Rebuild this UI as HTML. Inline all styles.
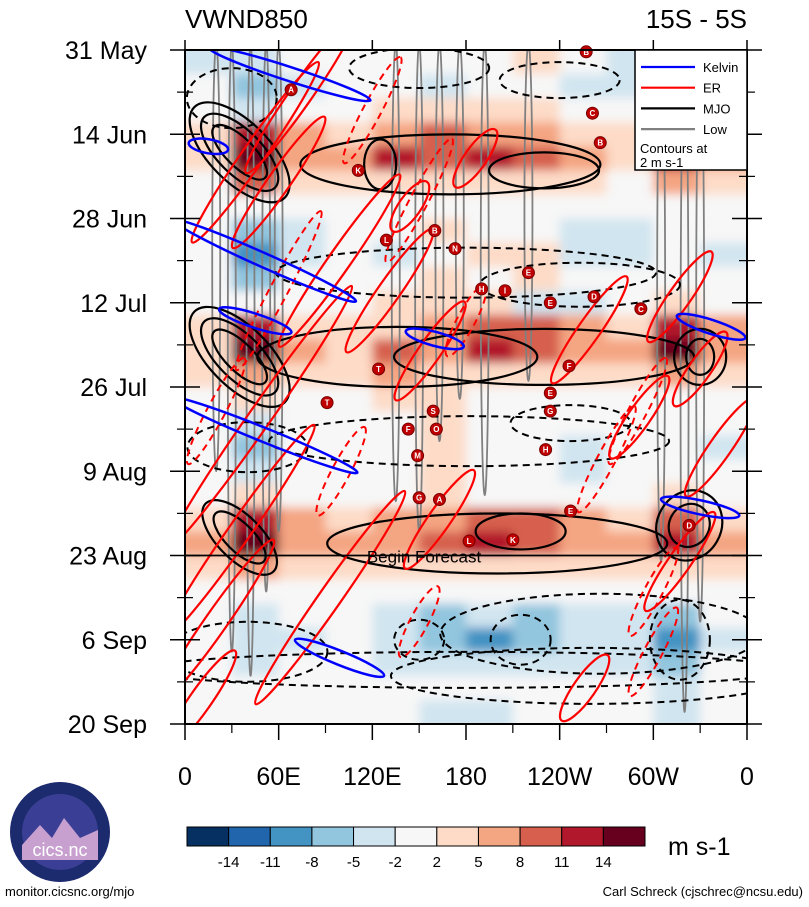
<!DOCTYPE html>
<html><head><meta charset="utf-8">
<style>
html,body{margin:0;padding:0;background:#fff;overflow:hidden;width:809px;height:907px;}
svg{display:block;}
svg text{font-family:"Liberation Sans",sans-serif;}
</style></head>
<body>
<svg id="c" width="809" height="907" viewBox="0 0 809 907" xmlns="http://www.w3.org/2000/svg">
<defs>
<clipPath id="plotclip"><rect x="185" y="50" width="562" height="674"/></clipPath>
<filter id="blur" x="-5%" y="-5%" width="110%" height="110%"><feGaussianBlur stdDeviation="5"/></filter>
</defs>
<rect x="0" y="0" width="809" height="907" fill="#fff"/>
<g id="heat" clip-path="url(#plotclip)"><g id="heatcells" filter="url(#blur)"></g></g>
<g id="contours" clip-path="url(#plotclip)"></g>
<g id="storms"></g>
<g id="axes"></g>
</svg>
<script>
const NS="http://www.w3.org/2000/svg";
// ---- data ----
const timeLabels=["31 May","14 Jun","28 Jun","12 Jul","26 Jul","9 Aug","23 Aug","6 Sep","20 Sep"];
const timeTickDays=[0,14,28,42,56,70,84,98,112];
const lonLabels=["0","60E","120E","180","120W","60W","0"];
const lonTicks=[0,60,120,180,240,300,360];
const levels=[-14,-11,-8,-5,-2,2,5,8,11,14];
const levelColors=["#053061","#2166ac","#4393c3","#92c5de","#d1e5f0","#f7f7f7","#fddbc7","#f4a582","#d6604d","#b2182b","#67001f"];
const cellLon=[15,45,75,105,135,165,195,225,255,285,315,345];
const cellDay=[2,6,10,14,18,22,26,30,34,38,42,46,50,54,58,62,66,70,74,78,82,86,90,94,98,102,106,110];
const vwnd=[
[-3,-5,-1,0,-2,-2,1,2,-2,-3,-2,-2],
[-2,-8,-3,-1,-2,-3,0,1,-3,-4,-3,-2],
[0,-3,-1,0,2,3,3,2,1,0,0,1],
[2,11,5,3,6,9,7,5,4,3,4,5],
[3,14,6,5,11,9,11,8,6,4,12,6],
[1,8,3,2,4,3,4,3,2,1,5,2],
[-1,-2,-2,-1,-1,-2,-1,-1,-2,-2,-1,-1],
[-2,-8,-3,-2,-2,3,-1,-2,-3,-3,-2,-2],
[-2,-11,-3,-2,-3,-2,3,2,-4,-3,-2,-3],
[-1,-8,-2,-1,-2,2,1,3,-2,-2,-1,-1],
[1,-2,1,0,2,3,2,-4,-3,-1,2,1],
[3,11,4,3,4,5,8,8,6,4,11,5],
[4,14,5,4,8,6,11,10,7,5,14,6],
[2,6,3,2,5,4,4,4,3,2,5,3],
[0,2,1,0,3,4,1,1,0,-1,1,0],
[-1,-5,-2,-1,1,4,-1,-1,-2,-2,-1,-2],
[-2,-8,-2,-2,-1,3,-2,-2,-4,-2,-2,-3],
[-1,-3,-2,-2,-1,2,-1,-1,-3,-1,-1,-2],
[1,4,1,0,1,3,1,1,0,1,3,1],
[4,11,5,4,5,7,10,9,5,4,10,4],
[5,14,6,5,7,10,11,9,6,5,12,5],
[3,6,4,3,3,3,4,3,3,3,4,3],
[0,1,0,0,-1,-1,-2,-2,-1,-1,-1,0],
[-1,-3,-2,-2,-4,-8,-5,-6,-4,-3,-8,-2],
[-2,-5,-3,-2,-5,-8,-10,-6,-4,-4,-11,-3],
[-1,-3,-2,-1,-3,-5,-5,-5,-3,-3,-8,-2],
[0,-1,-1,0,-1,-2,-2,-2,0,-1,-3,-1],
[-1,-2,-2,-1,-2,-3,-3,-2,-2,-2,-3,-2]];
// contour features: centre lon / day
const mjoPosLon=[35,35,35,170,230,125,35,35,35,136,330,330,230,215,35,35,323,323,200];
const mjoPosDay=[17,17,17,19,20,19,51,51,51,51,51,51,51,80,81,81,79,79,82];
const mjoNegLon=[150,240,30,180,253,182,247,40,215,150,266,317,40,180,260];
const mjoNegDay=[3,5,8,37,39,65,62,66,98,98,97,98,100,103,104];
const erLon=[74,45,60,131,99,157,144,186,259,317,330,291,48,35,163,93,317,256,343,20,10];
const erDay=[7.5,17,22,40,35,50,26,18,46.5,41,53,61,61,80,78,91,85,106,66,95,108];
const erDashLon=[120,150,180,290,300,60,20,150,300,270,100];
const erDashDay=[10,25,45,60,90,40,60,95,100,68,70];
const kelvinLon=[67,51,45,51,99,330,337,160,15];
const kelvinDay=[4,35,45,64,101,76,46,48,16];
// low tracks: longitude and day where the contour ends
const lowLon=[20,30,42,52,60,135,150,163,176,192,220,305,320,330];
const lowEndDay=[70,100,104,90,80,75,80,65,58,74,55,85,110,95];
const stormLetters=["A","B","C","B","K","L","B","N","H","I","E","E","D","C","T","F","T","S","F","O","M","E","G","H","G","A","E","L","K","D"];
const stormLon=[68,257,261,266,111,129,160,173,190,205,220,234,262,292,124,246,91,159,143,161,149,234,234,231,150,163,247,182,210,323];
const stormDay=[6.6,0.3,10.5,15.4,20,31.6,30,33,39.7,40,37,42,41,43,53,52.5,58.6,60,63,63,67.4,57,60,66.4,74.4,74.7,76.6,81.6,81.4,79];

// ---- scales ----
const X=lon=>185+lon*562/360;
const Y=d=>50+d*674/112;
function mk(tag,attrs,parent){const e=document.createElementNS(NS,tag);for(const k in attrs)e.setAttribute(k,attrs[k]);parent.appendChild(e);return e;}
function colorFor(v){let i=0;while(i<levels.length&&v>=levels[i])i++;return levelColors[i];}

// heatmap
const hc=document.getElementById('heatcells');
const cw=562/12, ch=674/28;
vwnd.forEach((row,r)=>row.forEach((v,c)=>{
  let x=X(cellLon[c])-cw/2, y=Y(cellDay[r])-ch/2, w=cw+0.6, h=ch+0.6;
  if(c===0){x-=15;w+=15;} if(c===11){w+=15;}
  if(r===0){y-=15;h+=15;} if(r===27){h+=15;}
  const e=mk('rect',{x:x,y:y,width:w,height:h,fill:colorFor(v)},hc);
  
  
}));

const cg=document.getElementById('contours');
function ell(cx,cy,rx,ry,ang,stroke,dash,sw,name){
  const e=mk('ellipse',{cx:cx,cy:cy,rx:rx,ry:ry,transform:`rotate(${ang} ${cx} ${cy})`,fill:'none',stroke:stroke,'stroke-width':sw},cg);
  if(dash)e.setAttribute('stroke-dasharray',dash);
  
  
}
// low (gray tall, from top edge down to end day)
lowLon.forEach((l,i)=>{const yb=Y(lowEndDay[i]);ell(X(l),(44+yb)/2,4,(yb-44)/2,0,'#808080',null,1.8,'low-contour');});
// MJO positive: nested sizes
const mjoPosRx=[36,50,64,150,55,16,36,50,64,140,14,26,150,45,34,48,20,32,170];
const mjoPosRy=[14,22,30,30,18,25,14,22,30,30,18,28,28,18,14,22,22,36,30];
const mjoPosAng=[45,45,45,0,0,0,45,45,45,0,0,0,0,0,45,45,30,30,0];
mjoPosLon.forEach((l,i)=>{ell(X(l),Y(mjoPosDay[i]),mjoPosRx[i],mjoPosRy[i],mjoPosAng[i],'#000',null,2.2,'mjo-positive-contour');});
const mjoNegRx=[70,60,45,190,100,200,60,60,30,25,160,30,80,320,200];
const mjoNegRy=[20,18,30,25,22,25,18,25,25,20,40,40,30,18,28];
mjoNegLon.forEach((l,i)=>{ell(X(l),Y(mjoNegDay[i]),mjoNegRx[i],mjoNegRy[i],0,'#000','7 5',2,'mjo-negative-contour');});
// ER
const erLen=[95,110,80,75,105,60,30,35,65,55,45,50,160,130,60,130,60,40,60,100,60];
erLon.forEach((l,i)=>{ell(X(l),Y(erDay[i]),erLen[i],11,-55,'#ff0000',null,2.2,'er-contour');});
const erDashLen=[60,70,40,60,50,90,60,40,50,60,50];
erDashLon.forEach((l,i)=>{ell(X(l),Y(erDashDay[i]),erDashLen[i],9,-62,'#ff0000','7 5',2,'er-negative-contour');});
// Kelvin
const kLen=[85,100,38,100,48,40,36,30,20];
const kAng=[18,24,18,22,22,12,18,15,10];
kelvinLon.forEach((l,i)=>{ell(X(l),Y(kelvinDay[i]),kLen[i],7,kAng[i],'#0000ff',null,2.5,'kelvin-contour');});

// begin forecast line
const bf=mk('line',{x1:185,x2:747,y1:Y(84),y2:Y(84),stroke:'#000','stroke-width':1.8},cg);

const bft=mk('text',{x:424,y:Y(84)+7,'text-anchor':'middle','font-size':17,fill:'#000'},document.getElementById('storms'));
bft.textContent='Begin Forecast';


// storms
const sg=document.getElementById('storms');
stormLetters.forEach((s,i)=>{
  const g=mk('g',{},sg);
  
  
  mk('circle',{cx:X(stormLon[i]),cy:Y(stormDay[i]),r:6,fill:'#c00000',stroke:'#700','stroke-width':1},g);
  const t=mk('text',{x:X(stormLon[i]),y:Y(stormDay[i])+3,'text-anchor':'middle','font-size':8,'font-weight':'bold',fill:'#fff'},g);
  t.textContent=s;
});

// axes
const ax=document.getElementById('axes');
const fr=mk('rect',{x:185,y:50,width:562,height:674,fill:'none',stroke:'#000','stroke-width':2},ax);

timeLabels.forEach((lab,i)=>{
  const y=Y(timeTickDays[i]);
  mk('line',{x1:170,x2:200,y1:y,y2:y,stroke:'#000','stroke-width':1.5},ax);
  mk('line',{x1:732,x2:762,y1:y,y2:y,stroke:'#000','stroke-width':1.5},ax);
  const t=mk('text',{x:147,y:y+9,'text-anchor':'end','font-size':25,fill:'#000'},ax);
  t.textContent=lab;
  
  if(i<timeLabels.length-1){
    const ym=Y(timeTickDays[i]+7);
    mk('line',{x1:177,x2:193,y1:ym,y2:ym,stroke:'#000','stroke-width':1.2},ax);
    mk('line',{x1:739,x2:755,y1:ym,y2:ym,stroke:'#000','stroke-width':1.2},ax);
  }
});
lonLabels.forEach((lab,i)=>{
  const x=X(lonTicks[i]);
  mk('line',{x1:x,x2:x,y1:724,y2:740,stroke:'#000','stroke-width':1.5},ax);
  mk('line',{x1:x,x2:x,y1:40,y2:50,stroke:'#000','stroke-width':1.5},ax);
  const t=mk('text',{x:x,y:785,'text-anchor':'middle','font-size':25,fill:'#000'},ax);
  t.textContent=lab;
  
  if(i<lonLabels.length-1){const xm=X(lonTicks[i]+30);mk('line',{x1:xm,x2:xm,y1:724,y2:733,stroke:'#000','stroke-width':1.2},ax);}
});
let t=mk('text',{x:185,y:28,'font-size':26,fill:'#000'},ax);t.textContent='VWND850';

t=mk('text',{x:747,y:28,'text-anchor':'end','font-size':26,fill:'#000'},ax);t.textContent='15S - 5S';


// legend
const lg=mk('g',{},ax);

mk('rect',{x:635,y:50,width:112,height:120,fill:'#fff',stroke:'#000','stroke-width':1.5},lg);
const legNames=["Kelvin","ER","MJO","Low"];
const legCols=["#0000ff","#ff0000","#000","#808080"];
legNames.forEach((n,i)=>{
  const y=67+i*20.7;
  const g=mk('g',{},lg);
  
  
  mk('line',{x1:641,x2:695,y1:y,y2:y,stroke:legCols[i],'stroke-width':2.2},g);
  const tt=mk('text',{x:703,y:y+5,'font-size':13,fill:'#000'},g);tt.textContent=n;
});
t=mk('text',{x:640,y:153,'font-size':13,fill:'#000'},lg);t.textContent='Contours at';
t=mk('text',{x:640,y:167,'font-size':13,fill:'#000'},lg);t.textContent='2 m s-1';

// colorbar
const cb=mk('g',{},ax);

const bw=458/levelColors.length;
levelColors.forEach((c,i)=>{mk('rect',{x:187+i*bw,y:827,width:bw,height:19,fill:c,stroke:'#000','stroke-width':1},cb);});
levels.forEach((v,i)=>{const tt=mk('text',{x:187+(i+1)*bw,y:867,'text-anchor':'middle','font-size':15,fill:'#000'},cb);tt.textContent=v;});
t=mk('text',{x:668,y:855,'font-size':25,fill:'#000'},cb);t.textContent='m s-1';


// logo
const lo=mk('g',{},ax);

mk('circle',{cx:60,cy:832,r:50,fill:'#1c2a6e'},lo);
mk('circle',{cx:60,cy:832,r:38,fill:'#3a3f95'},lo);
mk('path',{d:'M22 845 L40 825 L52 838 L64 818 L80 838 L98 830 L98 860 L22 860Z',fill:'#c7a0d0'},lo);
t=mk('text',{x:60,y:856,'text-anchor':'middle','font-size':18,fill:'#fff'},lo);t.textContent='cics.nc';

t=mk('text',{x:5,y:896,'font-size':13,fill:'#000'},ax);t.textContent='monitor.cicsnc.org/mjo';

t=mk('text',{x:803,y:896,'text-anchor':'end','font-size':13,fill:'#000'},ax);t.textContent='Carl Schreck (cjschrec@ncsu.edu)';

</script>
</body></html>
